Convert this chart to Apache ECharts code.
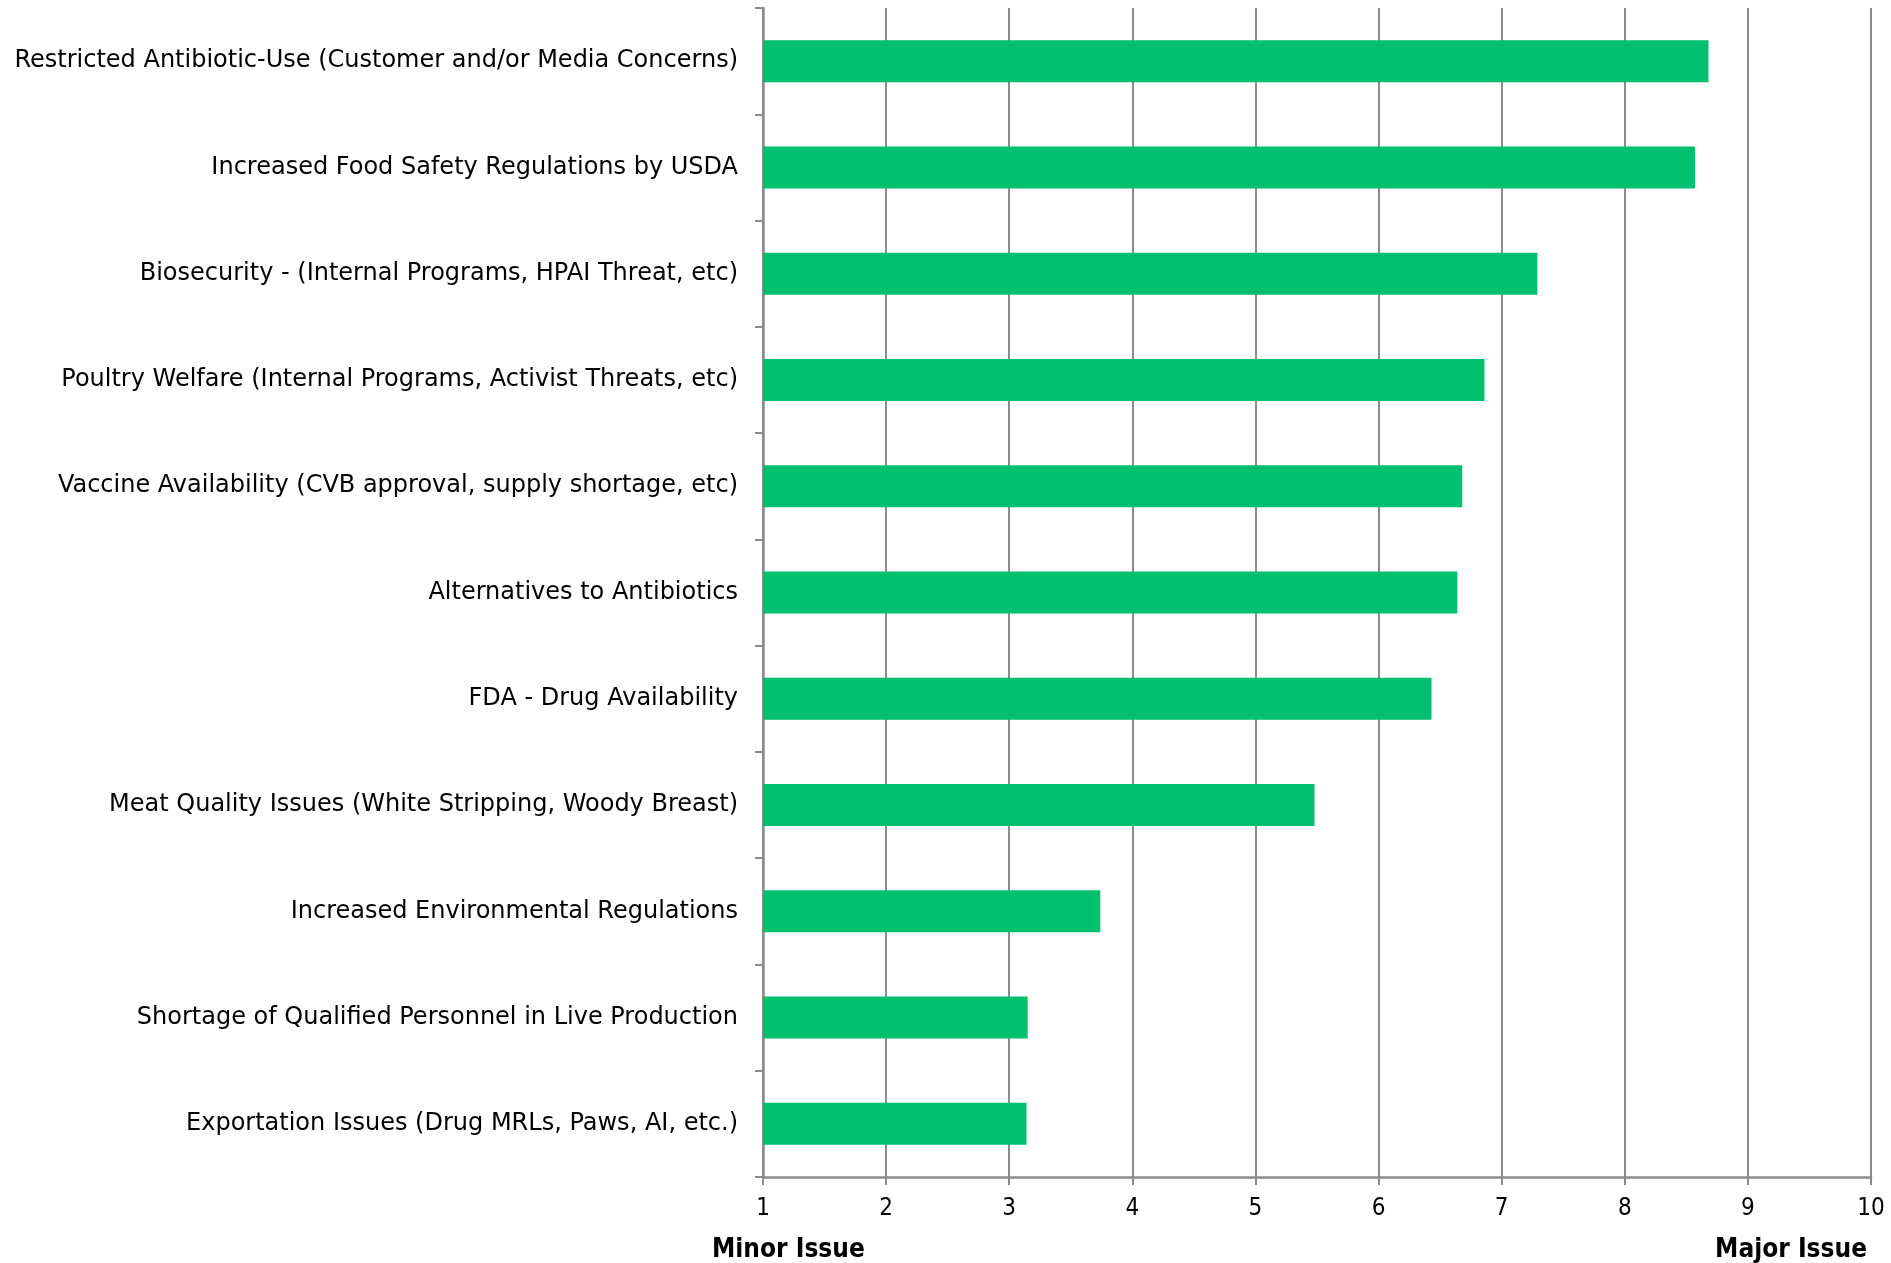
<!DOCTYPE html>
<html>
<head>
<meta charset="utf-8">
<script src="https://cdn.jsdelivr.net/npm/echarts@6/dist/echarts.min.js"></script>
<style>
html,body{margin:0;padding:0;background:#fff;}
#chart{width:1891px;height:1263px;}
</style>
</head>
<body>
<div id="chart"></div>
<script>
const categories = [
  "Restricted Antibiotic-Use (Customer and/or Media Concerns)",
  "Increased Food Safety Regulations by USDA",
  "Biosecurity - (Internal Programs, HPAI Threat, etc)",
  "Poultry Welfare (Internal Programs, Activist Threats, etc)",
  "Vaccine Availability (CVB approval, supply shortage, etc)",
  "Alternatives to Antibiotics",
  "FDA - Drug Availability",
  "Meat Quality Issues (White Stripping, Woody Breast)",
  "Increased Environmental Regulations",
  "Shortage of Qualified Personnel in Live Production",
  "Exportation Issues (Drug MRLs, Paws, AI, etc.)"
];
const scores = [8.68, 8.57, 7.29, 6.86, 6.68, 6.64, 6.43, 5.48, 3.74, 3.15, 3.14];
const axisMin = 1;
const axisMax = 10;
const scaleEnds = ["Minor Issue", "Major Issue"];

const FONT_C = "'DejaVu Sans Condensed', 'DejaVu Sans', sans-serif";
const FONT = "'DejaVu Sans', sans-serif";
const GRAY = '#8c8c8c';
const chart = echarts.init(document.getElementById('chart'));
chart.setOption({
  animation: false,
  backgroundColor: '#ffffff',
  grid: { left: 763, right: 20, top: 8, bottom: 86 },
  xAxis: {
    type: 'value',
    min: axisMin,
    max: axisMax,
    interval: 1,
    axisLine: { show: true, lineStyle: { color: GRAY, width: 2.5 } },
    axisTick: { show: true, length: 8, lineStyle: { color: GRAY, width: 2 } },
    splitLine: { show: true, lineStyle: { color: GRAY, width: 2 } },
    axisLabel: { color: '#000', fontFamily: FONT_C, fontSize: 24, margin: 20 }
  },
  yAxis: {
    type: 'category',
    data: categories,
    inverse: true,
    axisLine: { show: true, lineStyle: { color: GRAY, width: 2.5 } },
    axisTick: { show: true, length: 8, lineStyle: { color: GRAY, width: 2 } },
    axisLabel: { color: '#000', fontFamily: FONT, fontSize: 24, margin: 25, padding: [5, 0, 0, 0] }
  },
  series: [{
    type: 'bar',
    data: scores,
    barWidth: 42,
    itemStyle: { color: '#00bf6f' }
  }],
  graphic: [
    { type: 'text', left: 712, top: 1237,
      style: { text: scaleEnds[0], font: "bold 26px " + FONT_C, fill: '#000' } },
    { type: 'text', right: 24, top: 1237,
      style: { text: scaleEnds[1], font: "bold 26px " + FONT_C, fill: '#000' } }
  ]
});
</script>
</body>
</html>
